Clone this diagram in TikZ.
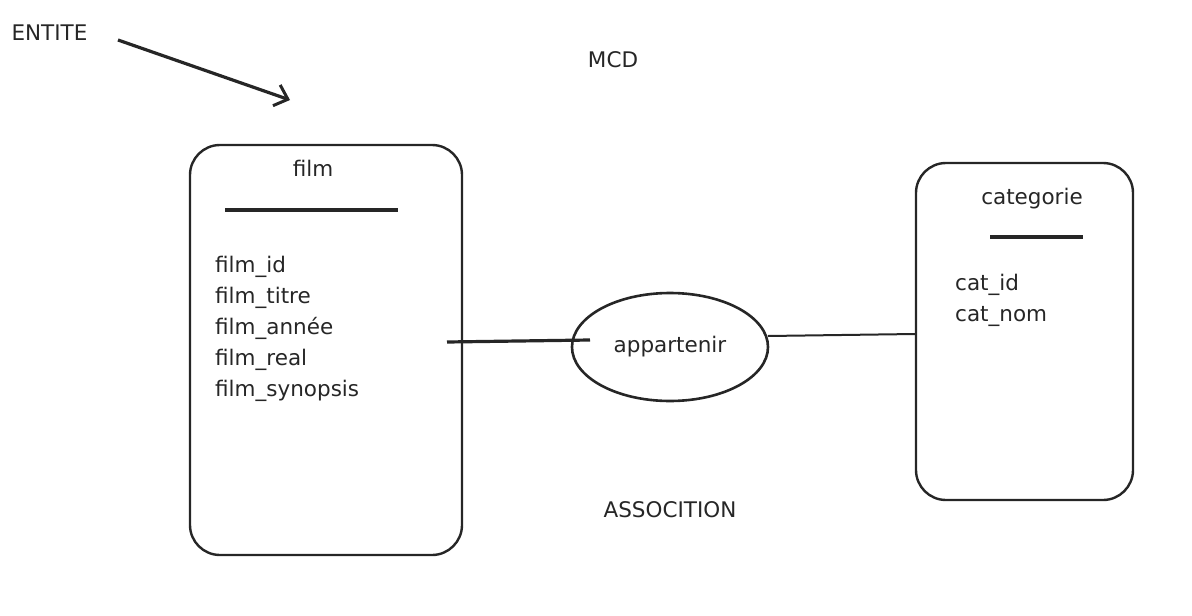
\documentclass[tikz,border=0pt]{standalone}
\usepackage{fontspec}
\setmainfont{DejaVu Sans}
\usetikzlibrary{positioning}
\usetikzlibrary{shapes.geometric}
\usetikzlibrary{arrows.meta}

\begin{document}
\begin{tikzpicture}
		[x=1pt, y=-1pt,
		entity/.style={draw=black!85, line width=2.4pt, rounded corners=30pt, inner sep=0pt},
		assoc/.style={ellipse, draw=black!85, line width=2.6pt, minimum width=196pt, minimum height=108pt},
		txt/.style={font=\fontsize{21.5}{31}\selectfont, text=black!85},
		attrs/.style={txt, align=left, anchor=north west, inner sep=0pt},
		link/.style={draw=black!85, line width=2pt}]
		\useasboundingbox (0,0) rectangle (1192,616);

		% entites
		\node[entity, minimum width=272pt, minimum height=410pt] (film) at (326,350) {};
		\node[entity, minimum width=217pt, minimum height=337pt] (cat) at (1024.5,331.5) {};
		\node[txt] (filmtitle) at (313,168) {film};
		\node[txt] (cattitle) at (1032,199) {categorie};
		\draw[line width=3.4pt, black!85] (225,210) -- (398,210);
		\draw[line width=3.4pt, black!85] (990,237) -- (1083,237);
		\node[attrs] (filmattrs) at (215,256) {film\_id\\film\_titre\\film\_année\\film\_real\\film\_synopsis};
		\node[attrs] (catattrs) at (955,274) {cat\_id\\cat\_nom};

		% association
		\node[assoc, txt] (appartenir) at (670,347) {appartenir};
		\coordinate (filmlink) at (447,342);
		\coordinate (assolink) at (590,340);
		\coordinate (catlink) at (768,336);
		\draw[link, line width=3.2pt] (filmlink) -- (assolink);
		\draw[link, line width=2pt] (catlink) -- (cat.west |- 0,334);

		% legendes
		\node[txt, anchor=west] (entite) at (8,33) {ENTITE};
		\node[txt] (mcd) at (613,60) {MCD};
		\node[txt] (association) at (670,510) {ASSOCITION};
		\coordinate (entitestart) at (118,40);
		\coordinate (entitetarget) at (290,100);
		\draw[link, line width=3.2pt, -{Straight Barb[length=12pt, width=22pt, line width=3pt]}] (entitestart) -- (entitetarget);
	\end{tikzpicture}
\end{document}
